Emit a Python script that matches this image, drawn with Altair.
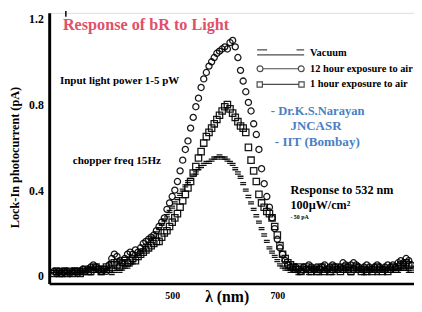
import altair as alt
import pandas as pd

# ---------------- data ----------------
wavelength = [275, 280, 285, 290, 295, 300, 305, 310, 315, 320,
              325, 330, 335, 340, 345, 350, 355, 360, 365, 370,
              375, 380, 385, 390, 395, 400, 405, 410, 415, 420,
              425, 430, 435, 440, 445, 450, 455, 460, 465, 470,
              475, 480, 485, 490, 495, 500, 505, 510, 515, 520,
              525, 530, 535, 540, 545, 550, 555, 560, 565, 570,
              575, 580, 585, 590, 595, 600, 605, 610, 615, 620,
              625, 630, 635, 640, 645, 650, 655, 660, 665, 670,
              675, 680, 685, 690, 695, 700, 705, 710, 715, 720,
              725, 730, 735, 740, 745, 750, 755, 760, 765, 770,
              775, 780, 785, 790, 795, 800, 805, 810, 815, 820,
              825, 830, 835, 840, 845, 850, 855, 860, 865, 870,
              875, 880, 885, 890, 895, 900, 905, 910, 915, 920,
              925, 930, 935, 940, 945, 950, 955]

air_12h = [0.02, 0.01, 0.02, 0.01, 0.02, 0.02, 0.01, 0.02, 0.02, 0.01,
           0.02, 0.03, 0.02, 0.03, 0.04, 0.05, 0.04, 0.03, 0.02, 0.03,
           0.02, 0.05, 0.08, 0.10, 0.09, 0.07, 0.06, 0.08, 0.10, 0.11,
           0.10, 0.12, 0.11, 0.13, 0.15, 0.16, 0.17, 0.18, 0.19, 0.21,
           0.23, 0.25, 0.27, 0.31, 0.34, 0.37, 0.40, 0.44, 0.49, 0.54,
           0.59, 0.63, 0.69, 0.74, 0.79, 0.83, 0.88, 0.92, 0.95, 0.98,
           1.00, 1.02, 1.04, 1.05, 1.06, 1.07, 1.06, 1.09, 1.10, 1.07,
           1.02, 0.96, 0.91, 0.86, 0.81, 0.77, 0.71, 0.66, 0.59, 0.50,
           0.43, 0.37, 0.32, 0.27, 0.22, 0.17, 0.13, 0.10, 0.07, 0.05,
           0.04, 0.03, 0.04, 0.03, 0.02, 0.04, 0.03, 0.05, 0.04, 0.03,
           0.04, 0.03, 0.04, 0.05, 0.03, 0.04, 0.05, 0.04, 0.03, 0.04,
           0.06, 0.05, 0.04, 0.05, 0.06, 0.05, 0.04, 0.03, 0.04, 0.05,
           0.04, 0.03, 0.04, 0.05, 0.04, 0.03, 0.04, 0.05, 0.04, 0.05,
           0.04, 0.06, 0.07, 0.06, 0.08, 0.07, 0.05]

air_1h = [0.01, 0.02, 0.01, 0.01, 0.02, 0.01, 0.02, 0.01, 0.02, 0.02,
          0.01, 0.02, 0.03, 0.02, 0.02, 0.03, 0.04, 0.03, 0.02, 0.03,
          0.04, 0.03, 0.05, 0.06, 0.05, 0.04, 0.06, 0.07, 0.06, 0.07,
          0.08, 0.07, 0.09, 0.10, 0.11, 0.12, 0.13, 0.14, 0.15, 0.16,
          0.16, 0.18, 0.20, 0.21, 0.23, 0.25, 0.27, 0.29, 0.32, 0.35,
          0.38, 0.41, 0.44, 0.48, 0.51, 0.55, 0.58, 0.62, 0.65, 0.67,
          0.69, 0.71, 0.73, 0.75, 0.77, 0.79, 0.80, 0.78, 0.76, 0.74,
          0.72, 0.70, 0.69, 0.67, 0.60, 0.54, 0.49, 0.44, 0.38, 0.34,
          0.32, 0.30, 0.29, 0.27, 0.23, 0.19, 0.14, 0.10, 0.08, 0.06,
          0.05, 0.04, 0.03, 0.04, 0.02, 0.03, 0.04, 0.03, 0.02, 0.03,
          0.02, 0.03, 0.04, 0.02, 0.03, 0.02, 0.03, 0.04, 0.03, 0.02,
          0.03, 0.04, 0.03, 0.02, 0.03, 0.04, 0.03, 0.02, 0.03, 0.02,
          0.03, 0.02, 0.03, 0.04, 0.03, 0.02, 0.03, 0.02, 0.03, 0.04,
          0.03, 0.04, 0.05, 0.04, 0.06, 0.05, 0.03]

vacuum = [0.02, 0.03, 0.01, 0.02, 0.03, 0.02, 0.01, 0.02, 0.03, 0.02,
          0.01, 0.02, 0.02, 0.03, 0.01, 0.02, 0.03, 0.02, 0.01, 0.02,
          0.03, 0.02, 0.01, 0.02, 0.03, 0.02, 0.03, 0.04, 0.04, 0.05,
          0.06, 0.08, 0.09, 0.11, 0.12, 0.14, 0.15, 0.17, 0.18, 0.20,
          0.22, 0.24, 0.26, 0.28, 0.30, 0.32, 0.34, 0.36, 0.38, 0.40,
          0.42, 0.44, 0.45, 0.47, 0.48, 0.50, 0.51, 0.52, 0.53, 0.53,
          0.54, 0.55, 0.55, 0.56, 0.55, 0.55, 0.54, 0.53, 0.52, 0.50,
          0.48, 0.46, 0.43, 0.40, 0.37, 0.34, 0.31, 0.28, 0.25, 0.22,
          0.19, 0.16, 0.13, 0.11, 0.09, 0.07, 0.05, 0.04, 0.03, 0.03,
          0.02, 0.03, 0.02, 0.01, 0.02, 0.03, 0.02, 0.01, 0.02, 0.03,
          0.02, 0.01, 0.02, 0.03, 0.02, 0.02, 0.01, 0.02, 0.03, 0.02,
          0.02, 0.03, 0.02, 0.01, 0.02, 0.03, 0.02, 0.02, 0.01, 0.02,
          0.03, 0.02, 0.02, 0.01, 0.02, 0.03, 0.02, 0.02, 0.03, 0.02,
          0.03, 0.02, 0.03, 0.04, 0.03, 0.02, 0.03]

series_names = ["Vacuum", "12 hour exposure to air", "1 hour exposure to air"]
x_ticks = [500, 700]
y_ticks = [0, 0.4, 0.8, 1.2]

# ---------------- table ----------------
rows = []
for name, vals in [("Vacuum", vacuum), ("1 hour exposure to air", air_1h),
                   ("12 hour exposure to air", air_12h)]:
    for w, v in zip(wavelength, vals):
        rows.append({"wavelength": w, "current": v, "series": name})
df = pd.DataFrame(rows)

SERIF = "Liberation Serif"

# marker shapes for the data
dash_marker = "M-1,-0.35H1M-1,0.35H1"
data_shapes = [dash_marker, "circle", "square"]
data_sizes = [36, 42, 32]

# wide legend symbols (line with end markers)
leg_vac = "M-4,-0.55H-2.3M2.7,-0.55H4M-4,0.3H4"
leg_circ = ("M-4,0A0.5,0.5,0,1,0,-3,0A0.5,0.5,0,1,0,-4,0"
            "M-3,0H3"
            "M3,0A0.5,0.5,0,1,0,4,0A0.5,0.5,0,1,0,3,0")
leg_sq = "M-4,-0.45H-3.1V0.45H-4ZM-3.1,0H3.1M3.1,-0.45H4V0.45H3.1Z"

x_enc = alt.X("wavelength:Q",
              scale=alt.Scale(domain=[266, 960], nice=False, zero=False),
              axis=alt.Axis(values=x_ticks, title="λ (nm)", grid=False,
                            ticks=False, labelPadding=7, labelFontSize=10,
                            labelFont=SERIF, labelFontWeight="bold",
                            labelColor="black", domainColor="black",
                            domainWidth=2.5, titleFont=SERIF,
                            titleFontSize=16, titleFontWeight="bold",
                            titleColor="black", titleX=181, titleY=18,
                            titleBaseline="alphabetic", titleAlign="center"))
y_enc = alt.Y("current:Q",
              scale=alt.Scale(domain=[-0.037, 1.229], nice=False, zero=False),
              axis=alt.Axis(values=y_ticks, format=".1~f",
                            title="Lock-In photocurrent (pA)", grid=False,
                            ticks=False, labelPadding=6, labelFontSize=12,
                            labelFont=SERIF, labelFontWeight="bold",
                            labelColor="black", domainColor="black",
                            domainWidth=3, titleFont=SERIF, titleFontSize=12.5,
                            titleFontWeight="bold", titleColor="black",
                            titleAngle=270, titleX=-35, titleY=147,
                            titleAlign="center", titleBaseline="middle"))

points = alt.Chart(df).mark_point(
    filled=False, color="black", strokeWidth=1.3, opacity=0.9
).encode(
    x=x_enc,
    y=y_enc,
    shape=alt.Shape("series:N",
                    scale=alt.Scale(domain=series_names, range=data_shapes),
                    legend=None),
    size=alt.Size("series:N",
                  scale=alt.Scale(domain=series_names, range=data_sizes),
                  legend=None),
)

legend_layer = alt.Chart(df).transform_filter("false").mark_point(
    filled=False, color="black", strokeWidth=1.2, size=144
).encode(
    shape=alt.Shape("series:N",
                    scale=alt.Scale(domain=series_names,
                                    range=[leg_vac, leg_circ, leg_sq]),
                    legend=alt.Legend(title=None, orient="none",
                                      legendX=211, legendY=34,
                                      symbolSize=144, symbolOffset=18,
                                      labelOffset=23, rowPadding=3,
                                      symbolStrokeWidth=1.2,
                                      symbolStrokeColor="black",
                                      labelFont=SERIF, labelFontSize=10.6,
                                      labelFontWeight="bold",
                                      labelColor="black", labelLimit=200)),
)


def note(text, x, y, size, color="black"):
    return alt.Chart(alt.Data(values=[{}])).mark_text(
        text=text, x=x, y=y, align="left", baseline="middle",
        font=SERIF, fontSize=size, fontWeight="bold", color=color)


RED = "#e0506a"
BLUE = "#4a80c4"
notes = [
    note("Response of bR to Light", 14, 12, 16.5, RED),
    note("Input light power 1-5 pW", 11, 70, 11.2),
    note("chopper freq 15Hz", 24, 151, 11.3),
    note("- Dr.K.S.Narayan", 226, 100, 12.8, BLUE),
    note("JNCASR", 246, 115, 13.2, BLUE),
    note("- IIT (Bombay)", 230, 132, 13.4, BLUE),
    note("Response to 532 nm", 246, 181, 12.4),
    note("100µW/cm²", 246, 196, 12.4),
    note("- 50 pA", 246, 208, 6),
]

top_tick = alt.Chart(alt.Data(values=[{}])).mark_rule(
    color="black", strokeWidth=1.5
).encode(x=alt.value(17), y=alt.value(-2), y2=alt.value(4))

chart = alt.layer(points, legend_layer, top_tick, *notes).resolve_scale(
    shape="independent"
).properties(
    width=372, height=276,
    autosize=alt.AutoSizeParams(type="none"),
    padding={"left": 42, "top": 2, "right": 0, "bottom": 22},
).configure_view(stroke="black", strokeWidth=2.2).configure(background="white")

chart.save("out.html", embed_options={"renderer": "svg", "actions": False})
